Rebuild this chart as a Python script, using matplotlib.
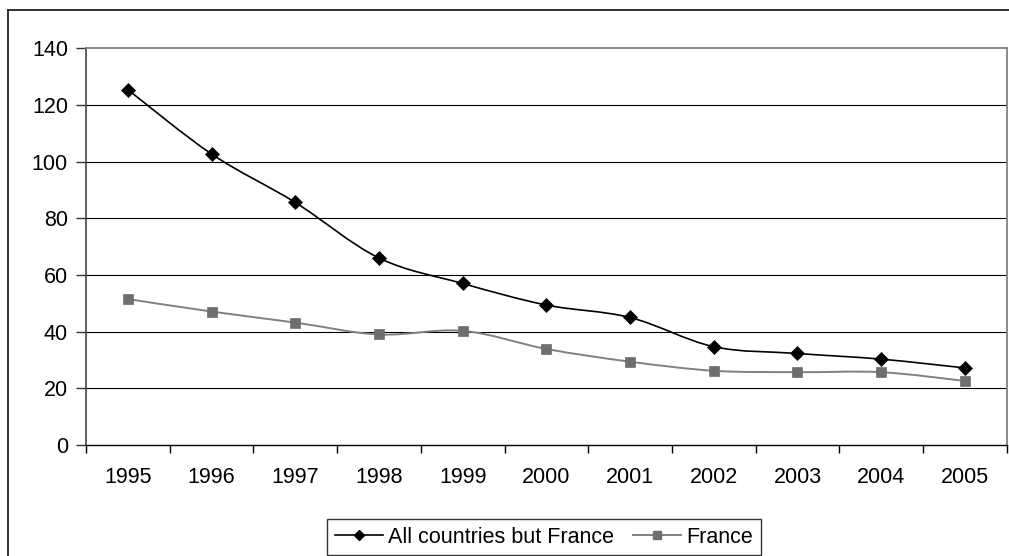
import matplotlib
matplotlib.use("Agg")
import matplotlib.pyplot as plt
import numpy as np
from matplotlib.path import Path
from matplotlib.patches import PathPatch
from matplotlib.lines import Line2D

plt.rcParams['font.family'] = ['Liberation Sans', 'DejaVu Sans']

years = ['1995', '1996', '1997', '1998', '1999', '2000',
         '2001', '2002', '2003', '2004', '2005']
all_but_france = [125.4, 102.7, 85.6, 66.0, 57.0, 49.4, 45.0, 34.7, 32.3, 30.3, 27.2]
france = [51.5, 47.1, 43.2, 39.0, 40.3, 33.9, 29.4, 26.2, 25.7, 25.7, 22.6]
y_ticks = [0, 20, 40, 60, 80, 100, 120, 140]
legend_labels = ['All countries but France', 'France']

W, H, DPI = 1009, 556, 100
fig = plt.figure(figsize=(W / DPI, H / DPI), dpi=DPI)
FS = 15.5


def px(x, y):
    return x / W, 1 - y / H


# outer chart frame
fig.add_artist(Line2D([8 / W, 1.0], [1 - 10 / H] * 2, color='#222222', lw=1.3,
                      transform=fig.transFigure))
fig.add_artist(Line2D([8 / W] * 2, [1 - 10 / H, 0.0], color='#222222', lw=1.3,
                      transform=fig.transFigure))

left, top = px(86, 48.3)
right, bottom = px(1006.7, 445)
ax = fig.add_axes([left, bottom, right - left, top - bottom])

x = np.arange(len(years))


def smooth_path(xs, ys, tension=1 / 6):
    pts = np.column_stack([xs, ys]).astype(float)
    n = len(pts)
    verts = [pts[0]]
    codes = [Path.MOVETO]
    for i in range(n - 1):
        p0 = pts[i - 1] if i > 0 else pts[i]
        p1 = pts[i]
        p2 = pts[i + 1]
        p3 = pts[i + 2] if i + 2 < n else pts[i + 1]
        c1 = p1 + (p2 - p0) * tension
        c2 = p2 - (p3 - p1) * tension
        verts += [c1, c2, p2]
        codes += [Path.CURVE4] * 3
    return Path(verts, codes)


series = [
    (all_but_france, 'black', 'black', 'D', 7.0, 1.2),
    (france, '#808080', '#6e6e6e', 's', 6.6, 1.4),
]
handles = []
for vals, lc, mc, mk, ms, lw in series:
    ax.add_patch(PathPatch(smooth_path(x, vals), facecolor='none', edgecolor=lc,
                           lw=lw, zorder=3, capstyle='round', joinstyle='round'))
    ax.plot(x, vals, linestyle='none', marker=mk, ms=ms, color=mc,
            markeredgecolor=mc, markeredgewidth=0.5, zorder=4)
    handles.append(Line2D([], [], color=lc, lw=lw, marker=mk, ms=ms * 0.8,
                          markerfacecolor=mc, markeredgecolor=mc))

ax.set_xlim(-0.5, len(years) - 0.5)
ax.set_ylim(0, 140)
ax.set_yticks(y_ticks)
ax.set_yticklabels([str(v) for v in y_ticks], fontsize=FS)
ax.set_xticks(np.arange(len(years) + 1) - 0.5)
ax.set_xticklabels([])
ax.set_xticks(x, minor=True)
ax.set_xticklabels(years, minor=True, fontsize=FS)
ax.tick_params(axis='x', which='minor', length=0, pad=16)
ax.tick_params(axis='x', which='major', length=6, width=1, color='black', direction='out')
ax.tick_params(axis='y', length=7, width=1, color='#333333', direction='out', pad=6)

for v in y_ticks[1:-1]:
    ax.axhline(v, color='black', lw=0.8, zorder=1)

ax.spines['top'].set_color('#808080')
ax.spines['right'].set_color('#808080')
ax.spines['top'].set_linewidth(1.3)
ax.spines['right'].set_linewidth(1.3)
ax.spines['left'].set_color('#444444')
ax.spines['left'].set_linewidth(1.2)
ax.spines['bottom'].set_color('black')
ax.spines['bottom'].set_linewidth(1.0)

leg = fig.legend(handles, legend_labels, loc='upper left',
                 bbox_to_anchor=px(327, 519), ncol=2, fontsize=FS,
                 frameon=True, fancybox=False, handlelength=2.25,
                 handletextpad=0.25, columnspacing=0.85, borderpad=0.35,
                 borderaxespad=0)
leg.get_frame().set_edgecolor('black')
leg.get_frame().set_linewidth(1.0)

fig.savefig('out.png', dpi=DPI)
